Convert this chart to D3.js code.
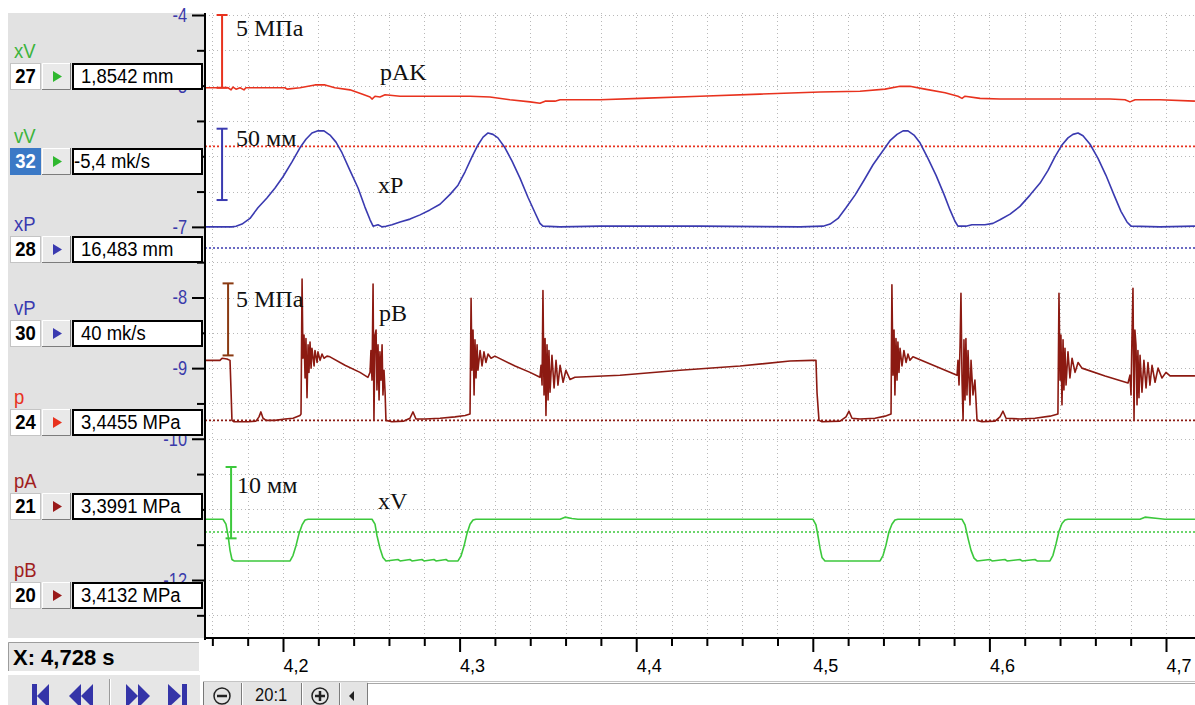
<!DOCTYPE html>
<html><head><meta charset="utf-8">
<script src="https://cdn.jsdelivr.net/npm/d3@7"></script>
<style>body{margin:0;background:#fff}svg{display:block}text{white-space:pre}</style>
</head><body>
<svg id="c" width="1195" height="705"></svg>
<script>
// ---------------- DATA ----------------
const channelNames = ["xV","vV","xP","vP","p","pA","pB"];
const channelNums = ["27","32","28","30","24","21","20"];
const channelValues = ["1,8542 mm","-5,4 mk/s","16,483 mm","40 mk/s","3,4455 MPa","3,3991 MPa","3,4132 MPa"];
const yTickValues = [-4,-5,-6,-7,-8,-9,-10,-11,-12];
const yHiddenLabels = [-6,-11];
const yMinorValues = [-4.5,-5.5,-6.5,-7.5,-8.5,-9.5,-10.5,-11.5,-12.5];
const xTickValues = [4.2,4.3,4.4,4.5,4.6,4.7];
const cursorLabel = "X: 4,728 s";
const zoomLabel = "20:1";
const seriesLabels = ["pAK","xP","pB","xV"];
const barLabels = ["5 МПа","50 мм","5 МПа","10 мм"];
const barTimes = [4.1655,4.1655,4.1689,4.1706];
const barTop = [-4.00,-5.61,-7.80,-10.40];
const barBottom = [-5.03,-6.62,-8.82,-11.41];
const refLevels = [-5.86,-7.30,-9.74,-11.32];

const pAK = [[4.1558,-5.03],[4.1689,-5.03],[4.1706,-5.06],[4.1717,-5.02],[4.1734,-5.05],[4.1757,-5.03],[4.1779,-5.06],[4.1790,-5.03],[4.2011,-5.03],[4.2023,-5.05],[4.2096,-5.03],[4.2181,-4.99],[4.2238,-4.99],[4.2294,-5.03],[4.2379,-5.06],[4.2447,-5.12],[4.2493,-5.16],[4.2504,-5.19],[4.2521,-5.15],[4.2549,-5.16],[4.2578,-5.13],[4.2663,-5.15],[4.2832,-5.15],[4.3059,-5.15],[4.3172,-5.16],[4.3285,-5.20],[4.3399,-5.23],[4.3455,-5.25],[4.3484,-5.22],[4.3540,-5.22],[4.3569,-5.20],[4.3795,-5.20],[4.4022,-5.18],[4.4361,-5.15],[4.4701,-5.12],[4.5041,-5.09],[4.5267,-5.08],[4.5409,-5.05],[4.5494,-5.01],[4.5550,-5.01],[4.5635,-5.05],[4.5749,-5.10],[4.5822,-5.15],[4.5845,-5.18],[4.5862,-5.15],[4.5947,-5.18],[4.6060,-5.19],[4.6400,-5.19],[4.6683,-5.19],[4.6768,-5.20],[4.6796,-5.23],[4.6825,-5.20],[4.6966,-5.20],[4.7164,-5.22]];

const xP = [[4.1558,-7.00],[4.1711,-7.00],[4.1734,-6.99],[4.1768,-6.96],[4.1813,-6.88],[4.1858,-6.73],[4.1909,-6.59],[4.1955,-6.45],[4.2000,-6.29],[4.2051,-6.08],[4.2096,-5.88],[4.2130,-5.76],[4.2164,-5.67],[4.2198,-5.64],[4.2232,-5.64],[4.2266,-5.70],[4.2300,-5.80],[4.2334,-5.95],[4.2379,-6.20],[4.2425,-6.45],[4.2464,-6.72],[4.2493,-6.90],[4.2510,-6.99],[4.2538,-6.97],[4.2561,-7.00],[4.2583,-6.99],[4.2617,-6.97],[4.2663,-6.93],[4.2719,-6.89],[4.2776,-6.83],[4.2832,-6.76],[4.2889,-6.68],[4.2946,-6.54],[4.2991,-6.41],[4.3031,-6.22],[4.3070,-6.01],[4.3104,-5.84],[4.3133,-5.73],[4.3161,-5.67],[4.3189,-5.69],[4.3217,-5.74],[4.3257,-5.88],[4.3297,-6.07],[4.3342,-6.31],[4.3387,-6.58],[4.3427,-6.80],[4.3455,-6.95],[4.3472,-6.99],[4.3569,-7.00],[4.3795,-6.99],[4.4361,-6.99],[4.4928,-7.00],[4.5058,-6.99],[4.5098,-6.96],[4.5143,-6.88],[4.5188,-6.73],[4.5239,-6.55],[4.5290,-6.34],[4.5341,-6.12],[4.5392,-5.94],[4.5437,-5.78],[4.5477,-5.69],[4.5511,-5.64],[4.5539,-5.64],[4.5573,-5.70],[4.5607,-5.81],[4.5652,-6.03],[4.5698,-6.27],[4.5743,-6.54],[4.5777,-6.76],[4.5805,-6.92],[4.5822,-6.99],[4.5867,-6.99],[4.5901,-6.97],[4.5975,-6.97],[4.6020,-6.95],[4.6060,-6.90],[4.6117,-6.82],[4.6173,-6.71],[4.6230,-6.55],[4.6287,-6.38],[4.6332,-6.20],[4.6371,-6.01],[4.6411,-5.84],[4.6445,-5.74],[4.6473,-5.69],[4.6502,-5.67],[4.6530,-5.71],[4.6570,-5.83],[4.6615,-6.03],[4.6660,-6.27],[4.6706,-6.55],[4.6745,-6.78],[4.6779,-6.93],[4.6802,-6.99],[4.6966,-7.00],[4.7164,-6.99]];

const pB = [[4.1558,-8.89],[4.1643,-8.89],[4.1655,-8.86],[4.1683,-8.87],[4.1700,-8.89],[4.1706,-9.34],[4.1711,-9.74],[4.1723,-9.76],[4.1802,-9.76],[4.1847,-9.75],[4.1864,-9.69],[4.1875,-9.62],[4.1887,-9.71],[4.1904,-9.74],[4.1955,-9.74],[4.2011,-9.72],[4.2057,-9.71],[4.2096,-9.67],[4.2102,-9.65],[4.2108,-7.74],[4.2113,-8.86],[4.2119,-8.53],[4.2125,-9.14],[4.2130,-8.58],[4.2136,-9.42],[4.2142,-8.67],[4.2147,-9.06],[4.2153,-8.63],[4.2159,-9.00],[4.2164,-8.72],[4.2176,-8.97],[4.2181,-8.75],[4.2193,-8.92],[4.2198,-8.77],[4.2210,-8.89],[4.2221,-8.80],[4.2232,-8.86],[4.2249,-8.83],[4.2266,-8.84],[4.2351,-8.96],[4.2436,-9.06],[4.2481,-9.13],[4.2493,-9.06],[4.2498,-8.75],[4.2504,-9.17],[4.2510,-7.81],[4.2515,-9.74],[4.2521,-8.53],[4.2527,-8.46],[4.2532,-9.31],[4.2538,-8.67],[4.2544,-9.45],[4.2549,-8.77],[4.2555,-9.17],[4.2561,-8.67],[4.2566,-9.38],[4.2572,-9.03],[4.2578,-9.34],[4.2583,-9.74],[4.2617,-9.76],[4.2685,-9.75],[4.2719,-9.71],[4.2736,-9.62],[4.2753,-9.72],[4.2804,-9.72],[4.2889,-9.71],[4.2974,-9.69],[4.3031,-9.67],[4.3059,-9.65],[4.3065,-8.01],[4.3070,-9.03],[4.3076,-8.46],[4.3082,-9.38],[4.3087,-8.60],[4.3093,-9.14],[4.3099,-8.67],[4.3104,-9.03],[4.3116,-8.75],[4.3127,-8.97],[4.3138,-8.77],[4.3149,-8.92],[4.3161,-8.80],[4.3178,-8.86],[4.3200,-8.83],[4.3314,-8.97],[4.3399,-9.06],[4.3455,-9.13],[4.3461,-8.96],[4.3467,-9.24],[4.3472,-7.90],[4.3478,-9.38],[4.3484,-8.58],[4.3489,-9.67],[4.3495,-8.67],[4.3501,-9.45],[4.3506,-8.75],[4.3512,-9.34],[4.3523,-8.82],[4.3535,-9.28],[4.3546,-8.89],[4.3557,-9.24],[4.3569,-8.96],[4.3586,-9.20],[4.3602,-9.03],[4.3625,-9.16],[4.3653,-9.13],[4.3908,-9.10],[4.4248,-9.03],[4.4588,-8.97],[4.4871,-8.90],[4.4995,-8.89],[4.5018,-8.89],[4.5024,-9.35],[4.5035,-9.74],[4.5052,-9.76],[4.5154,-9.75],[4.5188,-9.69],[4.5205,-9.61],[4.5222,-9.71],[4.5267,-9.72],[4.5352,-9.71],[4.5409,-9.68],[4.5443,-9.65],[4.5448,-7.82],[4.5454,-9.10],[4.5460,-8.46],[4.5465,-9.38],[4.5471,-8.58],[4.5477,-9.17],[4.5482,-8.63],[4.5488,-9.06],[4.5494,-8.72],[4.5505,-8.97],[4.5516,-8.75],[4.5528,-8.92],[4.5539,-8.80],[4.5550,-8.89],[4.5567,-8.84],[4.5692,-8.97],[4.5817,-9.10],[4.5822,-8.89],[4.5828,-9.24],[4.5834,-8.67],[4.5839,-7.94],[4.5845,-9.17],[4.5851,-9.74],[4.5856,-8.60],[4.5862,-9.45],[4.5867,-8.58],[4.5873,-9.38],[4.5879,-8.75],[4.5890,-9.52],[4.5896,-8.89],[4.5907,-9.38],[4.5918,-9.17],[4.5930,-9.74],[4.5958,-9.76],[4.6032,-9.75],[4.6060,-9.69],[4.6077,-9.61],[4.6094,-9.71],[4.6173,-9.72],[4.6258,-9.71],[4.6343,-9.68],[4.6388,-9.65],[4.6394,-7.94],[4.6400,-9.17],[4.6405,-8.53],[4.6411,-9.52],[4.6417,-8.60],[4.6422,-9.31],[4.6428,-8.72],[4.6434,-9.24],[4.6445,-8.77],[4.6456,-9.14],[4.6468,-8.86],[4.6485,-9.06],[4.6502,-8.92],[4.6524,-9.00],[4.6655,-9.11],[4.6785,-9.21],[4.6796,-9.10],[4.6802,-9.38],[4.6807,-8.60],[4.6813,-7.87],[4.6819,-9.74],[4.6824,-8.46],[4.6830,-8.67],[4.6836,-9.52],[4.6841,-8.75],[4.6847,-9.42],[4.6853,-8.82],[4.6864,-9.34],[4.6875,-8.89],[4.6887,-9.28],[4.6898,-8.92],[4.6909,-9.24],[4.6921,-8.96],[4.6938,-9.20],[4.6955,-9.00],[4.6977,-9.14],[4.7000,-9.06],[4.7023,-9.11],[4.7164,-9.11]];

const xV = [[4.1558,-11.14],[4.1660,-11.14],[4.1677,-11.21],[4.1689,-11.37],[4.1700,-11.58],[4.1711,-11.71],[4.1723,-11.73],[4.2040,-11.73],[4.2057,-11.65],[4.2074,-11.51],[4.2091,-11.34],[4.2108,-11.22],[4.2125,-11.15],[4.2142,-11.14],[4.2504,-11.14],[4.2521,-11.21],[4.2532,-11.37],[4.2549,-11.55],[4.2566,-11.68],[4.2583,-11.73],[4.2651,-11.71],[4.2663,-11.73],[4.2719,-11.71],[4.2730,-11.73],[4.2787,-11.71],[4.2798,-11.73],[4.2855,-11.71],[4.2866,-11.73],[4.2923,-11.71],[4.2934,-11.73],[4.2991,-11.73],[4.3008,-11.66],[4.3025,-11.52],[4.3042,-11.34],[4.3059,-11.21],[4.3076,-11.15],[4.3093,-11.14],[4.3569,-11.14],[4.3597,-11.11],[4.3636,-11.13],[4.3670,-11.14],[4.5001,-11.14],[4.5018,-11.22],[4.5029,-11.37],[4.5041,-11.55],[4.5052,-11.68],[4.5069,-11.73],[4.5381,-11.73],[4.5398,-11.65],[4.5414,-11.51],[4.5431,-11.32],[4.5448,-11.21],[4.5465,-11.15],[4.5482,-11.14],[4.5845,-11.14],[4.5862,-11.22],[4.5879,-11.41],[4.5896,-11.58],[4.5913,-11.69],[4.5930,-11.73],[4.6003,-11.71],[4.6015,-11.73],[4.6088,-11.71],[4.6100,-11.73],[4.6173,-11.71],[4.6185,-11.73],[4.6258,-11.71],[4.6270,-11.73],[4.6343,-11.73],[4.6360,-11.65],[4.6377,-11.49],[4.6394,-11.31],[4.6411,-11.20],[4.6428,-11.15],[4.6445,-11.14],[4.6853,-11.14],[4.6881,-11.11],[4.6955,-11.13],[4.6994,-11.14],[4.7164,-11.14]];

// ---------------- STYLE / LAYOUT ----------------
const RED='#e8321e', BLUE='#3a3ab0', DKRED='#8c1a12', GREEN='#3cc83c', BROWN='#8a3a12';
const seriesList=[pAK,xP,pB,xV];
const seriesColors=[RED,BLUE,DKRED,GREEN];
const barColors=[RED,BLUE,BROWN,GREEN];
const labelColors=['#3cb43c','#3cb43c',BLUE,BLUE,RED,'#a01e1e','#a01e1e'];
const triColors=['#2fb82f','#2fb82f',BLUE,BLUE,RED,'#9a1a1a','#9a1a1a'];
const SANS='"Liberation Sans", Arial, sans-serif';
const SERIF='"Liberation Serif", "Times New Roman", serif';

const svg=d3.select('#c');
const x=d3.scaleLinear().domain([4.2,4.7]).range([283,1166]);
const y=d3.scaleLinear().domain([-4,-12]).range([15,580]);

svg.append('rect').attr('width',1195).attr('height',705).attr('fill','#fff');
svg.append('clipPath').attr('id','pc').append('rect').attr('x',205).attr('y',13).attr('width',990).attr('height',625);

// grid
const grid=svg.append('g').attr('clip-path','url(#pc)').attr('stroke','#b8b8b8').attr('stroke-width',1).attr('stroke-dasharray','1,3');
grid.selectAll('line.v').data(d3.range(208,236).map(i=>i/50)).join('line')
  .attr('x1',d=>Math.round(x(d))+0.5).attr('x2',d=>Math.round(x(d))+0.5).attr('y1',13).attr('y2',638);
grid.selectAll('line.h').data(d3.range(8,26).map(i=>-i/2)).join('line')
  .attr('x1',205).attr('x2',1195).attr('y1',d=>Math.round(y(d))+0.5).attr('y2',d=>Math.round(y(d))+0.5);

// reference dotted lines
const plotG=svg.append('g').attr('clip-path','url(#pc)');
plotG.selectAll('line.ref').data(refLevels).join('line')
  .attr('x1',205).attr('x2',1195).attr('y1',d=>y(d)).attr('y2',d=>y(d))
  .attr('stroke',(d,i)=>seriesColors[i]).attr('stroke-width',1.6).attr('stroke-dasharray','2,2');

// traces
const line=d3.line().x(d=>x(d[0])).y(d=>y(d[1]));
seriesList.forEach((s,i)=>{
  plotG.append('path').datum(s).attr('d',line).attr('fill','none')
    .attr('stroke',seriesColors[i]).attr('stroke-width',1.6).attr('stroke-linejoin','round');
});

// scale bars + labels
barTimes.forEach((t,i)=>{
  const bx=x(t), y1=y(barTop[i]), y2=y(barBottom[i]);
  const g=svg.append('g').attr('stroke',barColors[i]).attr('stroke-width',2);
  g.append('line').attr('x1',bx).attr('x2',bx).attr('y1',y1).attr('y2',y2);
  g.append('line').attr('x1',bx-5.5).attr('x2',bx+5.5).attr('y1',y1).attr('y2',y1);
  g.append('line').attr('x1',bx-5.5).attr('x2',bx+5.5).attr('y1',y2).attr('y2',y2);
});
const barLabelPos=[[236,36],[236,146],[236,307],[237,493]];
barLabels.forEach((s,i)=>svg.append('text').attr('x',barLabelPos[i][0]).attr('y',barLabelPos[i][1])
  .attr('font-family',SERIF).attr('font-size',24).attr('fill','#111').text(s));
const seriesLabelPos=[[380,80],[378,193],[379,321],[378,509]];
seriesLabels.forEach((s,i)=>svg.append('text').attr('x',seriesLabelPos[i][0]).attr('y',seriesLabelPos[i][1])
  .attr('font-family',SERIF).attr('font-size',24).attr('fill','#111').text(s));

// left panel background
svg.append('rect').attr('x',8).attr('y',13).attr('width',197).attr('height',625).attr('fill','#e2e2e2');

// y axis
const gy=svg.append('g').attr('transform','translate(205,0)')
  .call(d3.axisLeft(y).tickValues(yTickValues).tickSize(13).tickPadding(5)
    .tickFormat(d=>yHiddenLabels.includes(d)?'':String(d)));
gy.select('.domain').remove();
gy.selectAll('.tick line').attr('stroke','#000').attr('stroke-width',2);
gy.selectAll('.tick text').attr('font-family',SANS).attr('font-size',20).attr('fill','#3a3aaa')
  .attr('x',-18/0.82).attr('transform','scale(0.82,1)');
const gy2=svg.append('g').attr('transform','translate(205,0)')
  .call(d3.axisLeft(y).tickValues(yMinorValues).tickSize(8).tickFormat(''));
gy2.select('.domain').remove();
gy2.selectAll('.tick line').attr('stroke','#000').attr('stroke-width',2);

// channel rows
const rowTops=[63,148,236,320,409,493,582];
function stext(x0,y0,str,size,sx,fill,weight,anchor){
  return svg.append('text').attr('transform',`translate(${x0},${y0}) scale(${sx},1)`)
    .attr('font-family',SANS).attr('font-size',size).attr('font-weight',weight||'normal')
    .attr('fill',fill).attr('text-anchor',anchor||'start').text(str);
}
channelNames.forEach((nm,i)=>{
  const t=rowTops[i];
  stext(14,t-5,nm,21,0.88,labelColors[i]);
  const sel=i===1;
  svg.append('rect').attr('x',10.5).attr('y',t+0.5).attr('width',30).attr('height',26)
    .attr('fill',sel?'#3b79c6':'#fff').attr('stroke',sel?'#3b79c6':'#c4c4c4');
  stext(25.5,t+20,channelNums[i],21,0.88,sel?'#fff':'#000','bold','middle');
  svg.append('rect').attr('x',42).attr('y',t).attr('width',29).attr('height',27).attr('fill','#e9e9e9');
  svg.append('path').attr('d',`M42.5,${t+27}V${t+0.5}H71`).attr('fill','none').attr('stroke','#fff');
  svg.append('path').attr('d',`M42,${t+26.5}H70.5V${t}`).attr('fill','none').attr('stroke','#7c7c7c');
  svg.append('path').attr('d',`M53,${t+8}L62,${t+13.5}L53,${t+19}Z`).attr('fill',triColors[i]);
  svg.append('rect').attr('x',73).attr('y',t+1).attr('width',129).attr('height',25)
    .attr('fill','#fff').attr('stroke','#000').attr('stroke-width',2);
  const v=channelValues[i];
  stext(v.startsWith('-')?74:81,t+20,v,21,0.88,'#000');
});

// axis lines
svg.append('line').attr('x1',205).attr('x2',205).attr('y1',13).attr('y2',640).attr('stroke','#000').attr('stroke-width',2);
svg.append('line').attr('x1',204).attr('x2',1195).attr('y1',638).attr('y2',638).attr('stroke','#000').attr('stroke-width',2);

// x axis
const gx=svg.append('g').attr('transform','translate(0,638)')
  .call(d3.axisBottom(x).tickValues(xTickValues).tickSize(14).tickFormat(d=>d.toFixed(1).replace('.',',')));
gx.select('.domain').remove();
gx.selectAll('.tick line').attr('stroke','#000').attr('stroke-width',2);
gx.selectAll('.tick text').attr('text-anchor','start').attr('x',0).attr('y',21)
  .attr('font-family',SANS).attr('font-size',18).attr('fill','#000');
const minorX=d3.range(208,236).map(i=>i/50).filter(v=>Math.abs(v*10-Math.round(v*10))>1e-6);
const gx2=svg.append('g').attr('transform','translate(0,638)')
  .call(d3.axisBottom(x).tickValues(minorX).tickSize(8).tickFormat(''));
gx2.select('.domain').remove();
gx2.selectAll('.tick line').attr('stroke','#000').attr('stroke-width',2);

// bottom toolbar (zoom controls)
svg.append('rect').attr('x',203).attr('y',682).attr('width',165).attr('height',23).attr('fill','#e4e4e4');
svg.append('line').attr('x1',203).attr('x2',1195).attr('y1',681.5).attr('y2',681.5).attr('stroke','#c4c4c4');
svg.append('line').attr('x1',203.5).attr('x2',203.5).attr('y1',682).attr('y2',705).attr('stroke','#777');
[241,301,339,367].forEach(xx=>{
  svg.append('line').attr('x1',xx+0.5).attr('x2',xx+0.5).attr('y1',683).attr('y2',705).attr('stroke','#7c7c7c');
  svg.append('line').attr('x1',xx+1.5).attr('x2',xx+1.5).attr('y1',683).attr('y2',705).attr('stroke','#fff');
});
svg.append('rect').attr('x',368).attr('y',683).attr('width',827).attr('height',22).attr('fill','#fff');
svg.append('line').attr('x1',368).attr('x2',1195).attr('y1',683.5).attr('y2',683.5).attr('stroke','#a8a8a8');
svg.append('circle').attr('cx',222).attr('cy',696).attr('r',8).attr('fill','none').attr('stroke','#222').attr('stroke-width',1.5);
svg.append('line').attr('x1',217).attr('x2',227).attr('y1',696).attr('y2',696).attr('stroke','#222').attr('stroke-width',2.5);
svg.append('circle').attr('cx',320).attr('cy',696).attr('r',8).attr('fill','none').attr('stroke','#222').attr('stroke-width',1.5);
svg.append('line').attr('x1',315).attr('x2',325).attr('y1',696).attr('y2',696).attr('stroke','#222').attr('stroke-width',2.5);
svg.append('line').attr('x1',320).attr('x2',320).attr('y1',691).attr('y2',701).attr('stroke','#222').attr('stroke-width',2.5);
svg.append('path').attr('d','M354,691L349,696L354,701Z').attr('fill','#222');
stext(255,701,zoomLabel,18,0.92,'#111');

// cursor box
svg.append('rect').attr('x',8).attr('y',642).attr('width',192).attr('height',30).attr('fill','#e6e6e6');
svg.append('path').attr('d','M8.5,672V642.5H200').attr('fill','none').attr('stroke','#9c9c9c');
svg.append('path').attr('d','M8,671.5H199.5V642').attr('fill','none').attr('stroke','#fff');
svg.append('text').attr('x',13).attr('y',665).attr('font-family',SANS).attr('font-size',22)
  .attr('font-weight','bold').attr('fill','#000').text(cursorLabel);

// navigation buttons
svg.append('rect').attr('x',8).attr('y',675).attr('width',192).attr('height',30).attr('fill','#e6e6e6');
const NAV='#3434a8';
svg.append('rect').attr('x',32).attr('y',684).attr('width',5).attr('height',24).attr('fill',NAV);
svg.append('path').attr('d','M49,684L37,696L49,708Z').attr('fill',NAV);
svg.append('path').attr('d','M81,684L69,696L81,708Z').attr('fill',NAV);
svg.append('path').attr('d','M93,684L81,696L93,708Z').attr('fill',NAV);
svg.append('line').attr('x1',109.5).attr('x2',109.5).attr('y1',679).attr('y2',705).attr('stroke','#9a9a9a');
svg.append('line').attr('x1',110.5).attr('x2',110.5).attr('y1',679).attr('y2',705).attr('stroke','#fff');
svg.append('path').attr('d','M126,684L138,696L126,708Z').attr('fill',NAV);
svg.append('path').attr('d','M138,684L150,696L138,708Z').attr('fill',NAV);
svg.append('path').attr('d','M168,684L181,696L168,708Z').attr('fill',NAV);
svg.append('rect').attr('x',182).attr('y',684).attr('width',5).attr('height',24).attr('fill',NAV);
</script>
</body></html>
